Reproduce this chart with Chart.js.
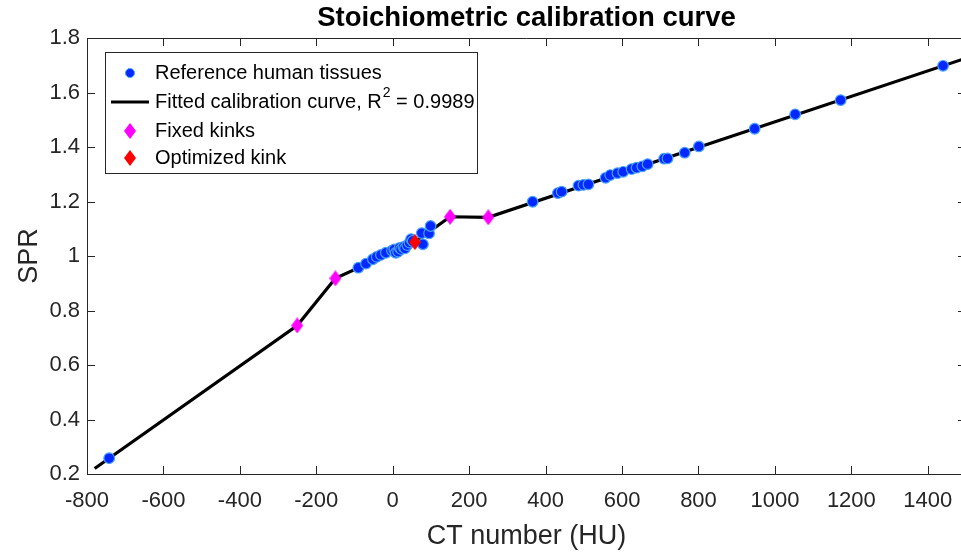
<!DOCTYPE html>
<html><head><meta charset="utf-8">
<script src="https://cdn.jsdelivr.net/npm/chart.js@4.4.1/dist/chart.umd.min.js"></script>
<style>html,body{margin:0;padding:0;overflow:hidden;background:#fff;width:961px;height:554px}</style>
</head><body>
<canvas id="c" width="975" height="554" style="display:block;width:975px;height:554px"></canvas>
<script>
// ---- data ----
const tissueCT = [-742, -90, -70, -52, -42, -31, -18, -2, 4, 8, 14, 18, 22, 28, 32, 38, 44, 48, 52, 79, 76, 95, 99,
  366, 432, 442, 486, 499, 512, 557, 569, 588, 603, 625, 638, 653, 667, 710, 719, 764, 801, 947, 1053, 1172, 1440];
const tissueSPR = [0.258, 0.957, 0.972, 0.988, 0.997, 1.004, 1.012, 1.020, 1.024, 1.012, 1.016, 1.030, 1.025, 1.033, 1.028, 1.040, 1.049, 1.062, 1.055, 1.043, 1.084, 1.083, 1.110,
  1.199, 1.231, 1.236, 1.258, 1.261, 1.263, 1.287, 1.297, 1.304, 1.309, 1.319, 1.324, 1.329, 1.337, 1.357, 1.358, 1.379, 1.402, 1.467, 1.520, 1.572, 1.698];
const curveCT = [-780, -250, -150, 58, 150, 250, 1500];
const curveSPR = [0.22, 0.745, 0.918, 1.051, 1.144, 1.142, 1.726];
const fixedCT = [-250, -150, 150, 250];
const fixedSPR = [0.745, 0.918, 1.144, 1.142];
const optCT = [58];
const optSPR = [1.051];
const xTicks = [-800, -600, -400, -200, 0, 200, 400, 600, 800, 1000, 1200, 1400];
const yTicks = [0.2, 0.4, 0.6, 0.8, 1.0, 1.2, 1.4, 1.6, 1.8];
const yTickLabels = ['0.2', '0.4', '0.6', '0.8', '1', '1.2', '1.4', '1.6', '1.8'];
const titleText = 'Stoichiometric calibration curve';
const xTitle = 'CT number (HU)';
const yTitle = 'SPR';
const legendLabels = ['Reference human tissues', 'Fitted calibration curve, R', '2', ' = 0.9989', 'Fixed kinks', 'Optimized kink'];

// ---- style ----
const F = '"Liberation Sans", Arial, Helvetica, sans-serif';
const AX = '#262626';
const BLUE = 'rgb(0,40,255)';
const BLUE_EDGE = 'rgb(70,160,255)';

function makeDiamond(color, w, h) {
  const c = document.createElement('canvas');
  c.width = w; c.height = h;
  const g = c.getContext('2d');
  g.fillStyle = color;
  g.beginPath();
  g.moveTo(w / 2, 0); g.lineTo(w, h / 2); g.lineTo(w / 2, h); g.lineTo(0, h / 2); g.closePath();
  g.fill();
  return c;
}
const magDiamond = makeDiamond('#ff00ff', 12, 16);
const redDiamond = makeDiamond('#ff0000', 12, 16);

const zip = (xs, ys) => xs.map((x, i) => ({x: x, y: ys[i]}));

const framePlugin = {
  id: 'frame',
  beforeDatasetsDraw(chart) {
    const {ctx, chartArea: a, scales: {x, y}} = chart;
    ctx.save();
    ctx.strokeStyle = AX; ctx.lineWidth = 1;
    ctx.beginPath();
    ctx.moveTo(a.left, a.top + 0.5); ctx.lineTo(a.right, a.top + 0.5);
    ctx.moveTo(a.right - 0.5, a.top); ctx.lineTo(a.right - 0.5, a.bottom);
    const tl = 8;
    x.ticks.forEach(t => {
      const px = Math.round(x.getPixelForValue(t.value)) + 0.5;
      ctx.moveTo(px, a.bottom); ctx.lineTo(px, a.bottom - tl);
      ctx.moveTo(px, a.top); ctx.lineTo(px, a.top + tl);
    });
    y.ticks.forEach(t => {
      const py = Math.round(y.getPixelForValue(t.value)) + 0.5;
      ctx.moveTo(a.left, py); ctx.lineTo(a.left + tl, py);
      ctx.moveTo(a.right, py); ctx.lineTo(a.right - tl, py);
    });
    ctx.stroke();
    ctx.restore();
  },
  afterDraw(chart) {
    const {ctx, chartArea: a} = chart;
    ctx.save();
    // title
    ctx.fillStyle = '#000';
    ctx.font = 'bold 27.5px ' + F;
    ctx.textAlign = 'center'; ctx.textBaseline = 'middle';
    ctx.fillText(titleText, (a.left + a.right) / 2, 18);
    // legend
    const L = 105, T = 52, R = 477, B = 173;
    ctx.fillStyle = '#fff';
    ctx.fillRect(L, T, R - L, B - T);
    ctx.strokeStyle = AX; ctx.lineWidth = 1;
    ctx.strokeRect(L + 0.5, T + 0.5, R - L, B - T);
    const tx = 155;
    const rows = [73, 102, 131, 158];
    ctx.font = '20px ' + F;
    ctx.textAlign = 'left'; ctx.textBaseline = 'middle';
    // row 1 marker
    ctx.beginPath(); ctx.arc(130, rows[0], 4.5, 0, Math.PI * 2);
    ctx.fillStyle = BLUE; ctx.fill(); ctx.strokeStyle = BLUE_EDGE; ctx.lineWidth = 1; ctx.stroke();
    ctx.fillStyle = '#000';
    ctx.fillText(legendLabels[0], tx, rows[0]);
    // row 2 line
    ctx.beginPath(); ctx.moveTo(111, rows[1]); ctx.lineTo(149, rows[1]);
    ctx.strokeStyle = '#000'; ctx.lineWidth = 3; ctx.stroke();
    ctx.fillStyle = '#000';
    ctx.fillText(legendLabels[1], tx, rows[1]);
    let w = ctx.measureText(legendLabels[1]).width;
    ctx.font = '14px ' + F;
    ctx.fillText(legendLabels[2], tx + w + 1, rows[1] - 9);
    const w2 = ctx.measureText(legendLabels[2]).width;
    ctx.font = '20px ' + F;
    ctx.fillText(legendLabels[3], tx + w + w2 + 1, rows[1]);
    // row 3, 4 diamonds
    ctx.drawImage(magDiamond, 130 - 6, rows[2] - 8);
    ctx.fillText(legendLabels[4], tx, rows[2]);
    ctx.drawImage(redDiamond, 130 - 6, rows[3] - 8);
    ctx.fillText(legendLabels[5], tx, rows[3]);
    ctx.restore();
  }
};

new Chart(document.getElementById('c'), {
  type: 'scatter',
  data: {
    datasets: [
      {label: 'Optimized kink', data: zip(optCT, optSPR), pointStyle: redDiamond, pointRadius: 8, order: 0},
      {label: 'Fixed kinks', data: zip(fixedCT, fixedSPR), pointStyle: magDiamond, pointRadius: 8, order: 1},
      {label: 'Reference human tissues', data: zip(tissueCT, tissueSPR), pointStyle: 'circle', pointRadius: 5.3,
        backgroundColor: BLUE, borderColor: BLUE_EDGE, borderWidth: 1.2, order: 2},
      {label: 'Fitted calibration curve', type: 'line', data: zip(curveCT, curveSPR), showLine: true, pointRadius: 0,
        borderColor: '#000', borderWidth: 3.2, fill: false, tension: 0, clip: 0, order: 3}
    ]
  },
  options: {
    responsive: false,
    animation: false,
    devicePixelRatio: 1,
    layout: {padding: {top: 38, right: 6, left: 0, bottom: 0}},
    plugins: {legend: {display: false}, tooltip: {enabled: false}, title: {display: false}},
    scales: {
      x: {
        type: 'linear', min: -800, max: 1500,
        afterBuildTicks: s => { s.ticks = xTicks.map(v => ({value: v})); },
        afterFit: s => { s.height = 80; },
        grid: {display: false, drawTicks: false},
        border: {display: true, color: AX, width: 1},
        ticks: {padding: 14, color: AX, font: {size: 22, family: F}, maxRotation: 0, autoSkip: false,
          callback: v => String(v)},
        title: {display: true, text: xTitle, color: AX, font: {size: 27, family: F}, padding: {top: 0, bottom: 1}}
      },
      y: {
        type: 'linear', min: 0.2, max: 1.8,
        afterBuildTicks: s => { s.ticks = yTicks.map(v => ({value: v})); },
        afterFit: s => { s.width = 87; },
        grid: {display: false, drawTicks: false},
        border: {display: true, color: AX, width: 1},
        ticks: {padding: 7, color: AX, font: {size: 22, family: F}, autoSkip: false,
          callback: (v, i) => yTickLabels[i]},
        title: {display: true, text: yTitle, color: AX, font: {size: 27, family: F}, padding: {top: 13, bottom: 0}}
      }
    }
  },
  plugins: [framePlugin]
});
</script></body></html>
